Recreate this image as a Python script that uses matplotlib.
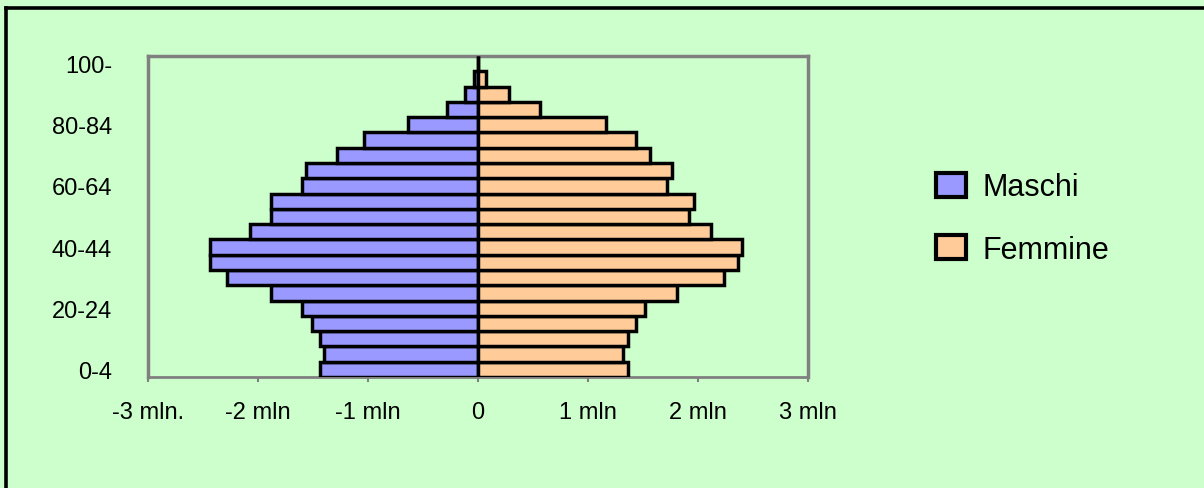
import numpy as np
import matplotlib
matplotlib.use('Agg')
import matplotlib.pyplot as plt
from matplotlib.lines import Line2D

plt.rcParams['font.family'] = ['Liberation Sans', 'DejaVu Sans']

# Age classes, bottom to top
ages = ['0-4', '5-9', '10-14', '15-19', '20-24', '25-29', '30-34', '35-39',
        '40-44', '45-49', '50-54', '55-59', '60-64', '65-69', '70-74',
        '75-79', '80-84', '85-89', '90-94', '95-99', '100-']

# Population in millions
maschi = [1.44, 1.40, 1.44, 1.51, 1.60, 1.88, 2.28, 2.44, 2.44, 2.07, 1.88,
          1.88, 1.60, 1.56, 1.28, 1.04, 0.64, 0.28, 0.12, 0.035, 0.003]
femmine = [1.36, 1.32, 1.36, 1.44, 1.52, 1.81, 2.24, 2.36, 2.40, 2.12, 1.92,
           1.96, 1.72, 1.76, 1.56, 1.44, 1.16, 0.56, 0.28, 0.075, 0.003]

x_ticks = [-3, -2, -1, 0, 1, 2, 3]
x_labels = ['-3 mln.', '-2 mln', '-1 mln', '0', '1 mln', '2 mln', '3 mln']

bg = '#CCFFCC'
W, H = 1204, 489
fig = plt.figure(figsize=(W / 100, H / 100), dpi=100, facecolor=bg)
ax = fig.add_axes([148 / W, 1 - 378 / H, 660 / W, 321 / H], facecolor=bg)

y = np.arange(len(ages))
ax.barh(y, -np.array(maschi), height=1.0, color='#9999FF', edgecolor='black',
        linewidth=2.5, label='Maschi', zorder=3)
ax.barh(y, femmine, height=1.0, color='#FFCC99', edgecolor='black',
        linewidth=2.5, label='Femmine', zorder=3)

ax.set_xlim(-3, 3)
ax.set_ylim(-0.5, len(ages) - 0.5)
ax.set_xticks(x_ticks)
ax.set_xticklabels(x_labels)
ax.set_yticks(y[::4])
ax.set_yticklabels(ages[::4])

for s in ['left', 'top', 'right']:
    ax.spines[s].set_color('#808080')
    ax.spines[s].set_linewidth(2.5)
ax.spines['bottom'].set_color('#808080')
ax.spines['bottom'].set_linewidth(2)
ax.tick_params(axis='x', length=3.6, width=1.5, color='#808080', pad=14, labelsize=17)
ax.tick_params(axis='y', length=0, pad=26, labelsize=17)

leg = fig.legend(loc='upper left', bbox_to_anchor=(908 / W, 1 - 146 / H),
                 frameon=False, fontsize=22, handlelength=1.0, handleheight=0.8,
                 handletextpad=0.55, labelspacing=1.05)
for p in leg.get_patches():
    p.set_linewidth(3)

# outer chart border (only top and left are inside the picture)
fig.add_artist(Line2D([6 / W, 1], [1 - 9 / H, 1 - 9 / H], color='black', lw=2.6))
fig.add_artist(Line2D([6 / W, 6 / W], [0, 1 - 9 / H], color='black', lw=2.6))

fig.savefig('out.png', dpi=100, facecolor=bg)
